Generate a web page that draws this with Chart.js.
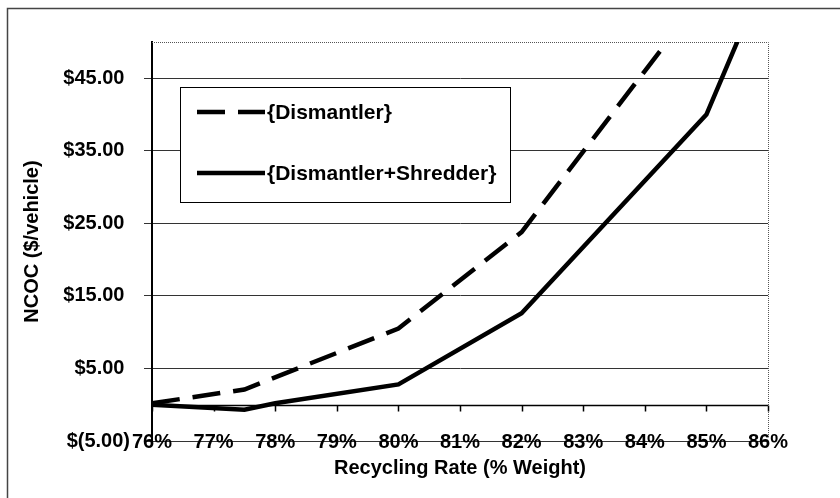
<!DOCTYPE html>
<html>
<head>
<meta charset="utf-8">
<script src="https://cdn.jsdelivr.net/npm/chart.js@4.4.0/dist/chart.umd.min.js"></script>
<style>
    html, body { margin: 0; padding: 0; background: #ffffff; }
    #grafico { display: block; }
</style>
</head>
<body>
<canvas id="grafico" width="840" height="498"></canvas>
<script>
// dados
const rateDismantler = [76, 77.5, 80, 82, 84, 85];
const costDismantler = [0.2, 2.1, 10.5, 23.8, 46, 57];
const rateShredder = [76, 77.5, 78, 80, 82, 85, 86];
const costShredder = [0, -0.7, 0.2, 2.8, 12.6, 40, 60];
const yTicks = [-5, 5, 15, 25, 35, 45];
const xTicks = [76, 77, 78, 79, 80, 81, 82, 83, 84, 85, 86];
const seriesNames = ['{Dismantler}', '{Dismantler+Shredder}'];

const fonte = 'Liberation Sans, Arial, sans-serif';

function pares(xs, ys) {
    let out = [];
    for (var i = 0; i < xs.length; i++) {
        out.push({ x: xs[i], y: ys[i] });
    }
    return out;
}

function dinheiro(v) {
    if (v < 0) return '$(' + Math.abs(v).toFixed(2) + ')';
    return '$' + v.toFixed(2) + ' ';
}

// moldura, eixo do zero e bordas do gráfico
const molduraPlugin = {
    id: 'moldura',
    beforeDraw(chart) {
        const ctx = chart.ctx;
        ctx.save();
        ctx.strokeStyle = '#444';
        ctx.lineWidth = 1.5;
        ctx.beginPath();
        ctx.moveTo(7.5, 498);
        ctx.lineTo(7.5, 8.5);
        ctx.lineTo(840, 8.5);
        ctx.stroke();
        ctx.restore();
    },
    beforeDatasetsDraw(chart) {
        const ctx = chart.ctx;
        const a = chart.chartArea;
        const x = chart.scales.x;
        const y = chart.scales.y;
        ctx.save();
        // bordas superior e direita pontilhadas
        ctx.strokeStyle = '#555';
        ctx.lineWidth = 1;
        ctx.setLineDash([1, 1]);
        ctx.beginPath();
        ctx.moveTo(a.left, a.top + 0.5);
        ctx.lineTo(a.right + 0.5, a.top + 0.5);
        ctx.lineTo(a.right + 0.5, a.bottom - 6);
        ctx.stroke();
        ctx.setLineDash([]);
        // eixo x no valor zero
        const y0 = Math.round(y.getPixelForValue(0)) + 0.5;
        ctx.strokeStyle = '#000';
        ctx.lineWidth = 1.5;
        ctx.beginPath();
        ctx.moveTo(a.left, y0);
        ctx.lineTo(a.right, y0);
        for (var i = 0; i < xTicks.length; i++) {
            const px = Math.round(x.getPixelForValue(xTicks[i])) + 0.5;
            ctx.moveTo(px, y0);
            ctx.lineTo(px, y0 + 6);
        }
        ctx.stroke();
        ctx.restore();
    },
    afterDatasetsDraw(chart) {
        const ctx = chart.ctx;
        const a = chart.chartArea;
        const x = chart.scales.x;
        ctx.save();
        // rótulos do eixo x na base da área (cortados pela linha de -5)
        ctx.fillStyle = '#000';
        ctx.font = 'bold 20px ' + fonte;
        ctx.textAlign = 'center';
        ctx.textBaseline = 'middle';
        x.ticks.forEach(function (t) {
            ctx.fillText(t.value + '%', x.getPixelForValue(t.value), a.bottom + 1);
        });

        // legenda em caixa
        ctx.fillStyle = '#fff';
        ctx.fillRect(180, 87, 330, 115);
        ctx.strokeStyle = '#000';
        ctx.lineWidth = 1;
        ctx.strokeRect(180.5, 87.5, 330, 115);
        const linhas = [112, 173];
        chart.data.datasets.forEach(function (ds, i) {
            ctx.strokeStyle = ds.borderColor;
            ctx.lineWidth = ds.borderWidth;
            ctx.lineCap = 'butt';
            ctx.setLineDash(ds.borderDash || []);
            ctx.beginPath();
            ctx.moveTo(197, linhas[i]);
            ctx.lineTo(265, linhas[i]);
            ctx.stroke();
            ctx.setLineDash([]);
            ctx.fillStyle = '#000';
            ctx.font = 'bold 21px ' + fonte;
            ctx.textBaseline = 'middle';
            ctx.textAlign = 'left';
            ctx.fillText(ds.label, 267, linhas[i] + 1);
        });
        ctx.restore();
    }
};

const ctx = document.getElementById('grafico');
new Chart(ctx, {
    type: 'scatter',
    data: {
        datasets: [{
            label: seriesNames[0],
            data: pares(rateDismantler, costDismantler),
            showLine: true,
            borderColor: '#000',
            borderWidth: 4.5,
            borderDash: [28, 13],
            pointRadius: 0,
            tension: 0,
            clip: 0
        }, {
            label: seriesNames[1],
            data: pares(rateShredder, costShredder),
            showLine: true,
            borderColor: '#000',
            borderWidth: 4.5,
            pointRadius: 0,
            tension: 0,
            clip: 0
        }]
    },
    options: {
        responsive: false,
        animation: false,
        layout: {
            padding: { top: 42, right: 72, left: 0, bottom: 0 }
        },
        scales: {
            x: {
                type: 'linear',
                min: 76,
                max: 86,
                afterBuildTicks: function (scale) {
                    scale.ticks = xTicks.map(function (v) { return { value: v }; });
                },
                afterFit: function (scale) {
                    scale.height = 57;
                },
                grid: { display: false, drawTicks: false },
                border: { display: false },
                ticks: { display: false },
                title: {
                    display: true,
                    text: 'Recycling Rate (% Weight)',
                    color: '#000',
                    font: { size: 20, weight: 'bold', family: fonte },
                    padding: { top: 0, bottom: 18 }
                }
            },
            y: {
                min: -5,
                max: 50,
                afterBuildTicks: function (scale) {
                    scale.ticks = yTicks.map(function (v) { return { value: v }; });
                },
                afterFit: function (scale) {
                    scale.width = 152;
                },
                grid: {
                    color: '#333',
                    lineWidth: 1,
                    drawTicks: true,
                    tickLength: 8
                },
                border: { display: true, color: '#000', width: 2 },
                ticks: {
                    padding: 14,
                    color: '#000',
                    font: { size: 20, weight: 'bold', family: fonte },
                    callback: function (v) { return dinheiro(v); }
                },
                title: {
                    display: true,
                    text: 'NCOC ($/vehicle)',
                    color: '#000',
                    font: { size: 20, weight: 'bold', family: fonte },
                    padding: { top: 20, bottom: 0 }
                }
            }
        },
        plugins: {
            legend: { display: false },
            tooltip: { enabled: false }
        }
    },
    plugins: [molduraPlugin]
});
</script>
</body>
</html>
